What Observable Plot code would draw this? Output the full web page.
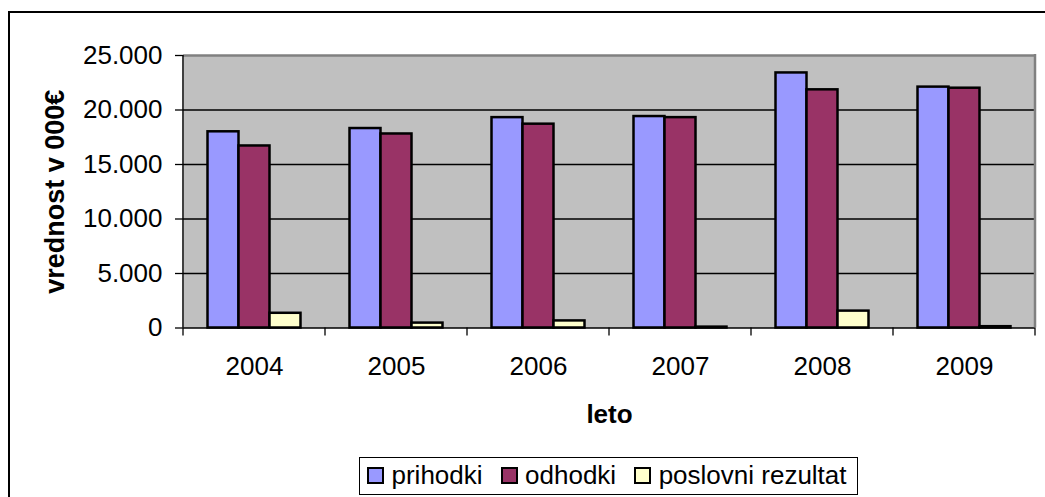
<!DOCTYPE html>
<html><head><meta charset="utf-8">
<script src="https://cdn.jsdelivr.net/npm/d3@7"></script>
<script src="https://cdn.jsdelivr.net/npm/@observablehq/plot@0.6"></script>
<style>
body{margin:0;background:#fff;}
#wrap{position:relative;width:1045px;height:497px;overflow:hidden;background:#fff;font-family:"Liberation Sans",Arial,sans-serif;color:#000;}
#outer{position:absolute;left:8px;top:11px;width:1200px;height:700px;border:2.5px solid #000;box-sizing:border-box;}
#chart{position:absolute;left:0;top:0;}
#legend{position:absolute;left:359px;top:456.5px;width:499px;height:38.5px;border:1.5px solid #000;box-sizing:border-box;display:flex;align-items:center;padding-left:7px;background:#fff;font-size:26px;white-space:nowrap;}
.item{display:flex;align-items:center;margin-right:18px;}
.sw{width:17px;height:17px;border:2.5px solid #000;box-sizing:border-box;margin-right:7.5px;}
</style></head>
<body><div id="wrap"><div id="outer"></div><div id="chart"></div><div id="legend"></div></div>
<script>
const years = ["2004", "2005", "2006", "2007", "2008", "2009"];
const series = ["prihodki", "odhodki", "poslovni rezultat"];
const colors = ["#9999FF", "#993366", "#FFFFCC"];
const prihodki = [18000, 18300, 19300, 19400, 23400, 22100];
const odhodki = [16700, 17800, 18700, 19300, 21850, 22000];
const poslovniRezultat = [1350, 450, 650, 80, 1550, 120];
const yTicks = [0, 5000, 10000, 15000, 20000, 25000];
const gridTicks = [5000, 10000, 15000, 20000];
const yTitle = "vrednost v 000€";
const xTitle = "leto";

const values = [prihodki, odhodki, poslovniRezultat];
const rows = [];
years.forEach((year, i) => series.forEach((s, k) => rows.push({year, series: s, value: values[k][i]})));

const fmt = d3.formatLocale({decimal: ",", thousands: ".", grouping: [3], currency: ["", "€"]}).format(",d");
const font = '"Liberation Sans", Arial, sans-serif';

const plot = Plot.plot({
  width: 1045, height: 445,
  marginLeft: 181.5, marginRight: 9.5, marginTop: 55, marginBottom: 117.5,
  style: {fontFamily: font, fontSize: "26px", color: "#000", background: "transparent", overflow: "visible"},
  fx: {domain: years, padding: 0, label: null},
  x: {domain: series, paddingInner: 0, paddingOuter: 0.725, axis: null},
  y: {domain: [0, 25000]},
  color: {domain: series, range: colors},
  marks: [
    Plot.frame({fill: "#C0C0C0", stroke: "none", shapeRendering: "crispEdges"}),
    Plot.gridY(gridTicks, {stroke: "#000", strokeOpacity: 1, strokeWidth: 1.3}),
    Plot.gridY([25000], {stroke: "#808080", strokeOpacity: 1, strokeWidth: 2.5}),
    Plot.barY(rows, {fx: "year", x: "series", y: "value", fill: "series", stroke: "#000", strokeWidth: 2.5}),
    Plot.ruleY([0], {stroke: "#000", strokeWidth: 1.5}),
    Plot.axisY(yTicks, {tickFormat: fmt, tickSize: 8, tickPadding: 13, fontSize: 26, label: null, strokeWidth: 1.3}),
    Plot.axisY([], {label: yTitle, labelAnchor: "center", labelOffset: 138.5, labelArrow: "none", fontWeight: "bold", fontSize: 27}),
    Plot.axisFx({anchor: "bottom", tickSize: 0, tickPadding: 29, fontSize: 26, label: null}),
    Plot.axisFx([], {anchor: "bottom", label: xTitle, labelAnchor: "center", labelOffset: 94.8, labelArrow: "none", fontWeight: "bold", fontSize: 26})
  ]
});
document.getElementById("chart").appendChild(plot);

// category boundary ticks, left axis line and right border of the plot area, from Plot's own scales
const fx = plot.scale("fx"), y = plot.scale("y");
const xs = years.map(d => fx.apply(d));
const xEnd = xs[xs.length - 1] + fx.bandwidth;
const y0 = y.apply(0), yTop = y.apply(25000);
const g = d3.select(plot).append("g");
g.selectAll("line.b").data(xs.concat([xEnd])).join("line")
  .attr("x1", d => d).attr("x2", d => d).attr("y1", y0).attr("y2", y0 + 8)
  .attr("stroke", "#000").attr("stroke-width", 1.3);
g.append("line").attr("x1", xs[0]).attr("x2", xs[0]).attr("y1", yTop).attr("y2", y0)
  .attr("stroke", "#000").attr("stroke-width", 1.5);
g.append("line").attr("x1", xEnd).attr("x2", xEnd).attr("y1", yTop - 1).attr("y2", y0)
  .attr("stroke", "#808080").attr("stroke-width", 2.5);

// legend
const legend = d3.select("#legend");
const items = legend.selectAll("div.item").data(series).join("div").attr("class", "item");
items.append("div").attr("class", "sw").style("background", (d, i) => colors[i]);
items.append("span").text(d => d);
</script>
</body></html>
